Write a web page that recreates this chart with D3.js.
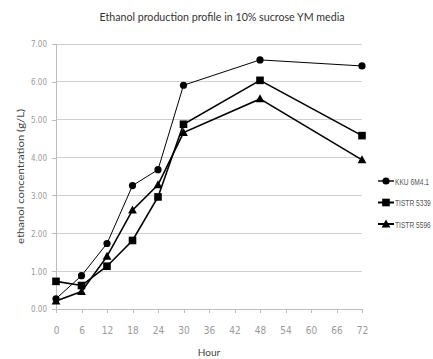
<!DOCTYPE html>
<html>
<head>
<meta charset="utf-8">
<script src="https://cdn.jsdelivr.net/npm/d3@7"></script>
<style>
  html, body { margin: 0; padding: 0; background: #fff; }
  svg { display: block; }
</style>
</head>
<body>
<svg id="chart" width="433" height="359"></svg>
<script>
// Sampling times (h) and ethanol concentration (g/L) for each strain
const hours = [0, 6, 12, 18, 24, 30, 48, 72];
const kkuValues = [0.27, 0.88, 1.73, 3.26, 3.68, 5.91, 6.58, 6.42];
const tistr5339Values = [0.73, 0.62, 1.13, 1.81, 2.96, 4.88, 6.04, 4.58];
const tistr5596Values = [0.21, 0.46, 1.39, 2.61, 3.28, 4.66, 5.55, 3.94];
const seriesNames = ["KKU 6M4.1", "TISTR 5339", "TISTR 5596"];
const xTicks = [0, 6, 12, 18, 24, 30, 36, 42, 48, 54, 60, 66, 72];
const yTicks = [0, 1, 2, 3, 4, 5, 6, 7];

const series = [
  { name: seriesNames[0], values: kkuValues, marker: "circle", width: 1 },
  { name: seriesNames[1], values: tistr5339Values, marker: "square", width: 1.6 },
  { name: seriesNames[2], values: tistr5596Values, marker: "triangle", width: 1.6 }
];

const svg = d3.select("#chart");
const tickFont = "'Liberation Sans Narrow', 'DejaVu Sans Condensed', 'Liberation Sans', sans-serif";
const labelFont = "Lato, 'Open Sans', sans-serif";

const x = d3.scaleLinear().domain([0, 72]).range([56, 362]);
const y = d3.scaleLinear().domain([0, 7]).range([309, 44]);

// Horizontal gridlines
svg.append("g")
  .selectAll("line")
  .data(yTicks.filter(d => d > 0))
  .join("line")
  .attr("x1", x(0)).attr("x2", x(72))
  .attr("y1", d => y(d)).attr("y2", d => y(d))
  .attr("stroke", "#d0d0d0").attr("stroke-width", 1)
  .attr("shape-rendering", "crispEdges");

// Y axis
const yAxis = svg.append("g")
  .attr("transform", `translate(${x(0)},0)`)
  .call(d3.axisLeft(y).tickValues(yTicks).tickSize(4).tickPadding(5)
    .tickFormat(d3.format(".2f")));
yAxis.selectAll("line, path").attr("stroke", "#bdbdbd").attr("shape-rendering", "crispEdges");
yAxis.selectAll("text").attr("fill", "#9a9a9a")
  .attr("textLength", 16).attr("lengthAdjust", "spacingAndGlyphs")
  .style("font-family", tickFont).style("font-size", "9px");

// X axis
const xAxis = svg.append("g")
  .attr("transform", `translate(0,${y(0)})`)
  .call(d3.axisBottom(x).tickValues(xTicks).tickSize(4).tickPadding(14));
xAxis.select("path").attr("d", `M${x(0)},0H${x(72)}`);
xAxis.selectAll("line, path").attr("stroke", "#bdbdbd").attr("shape-rendering", "crispEdges");
xAxis.selectAll("text").attr("fill", "#9a9a9a")
  .style("font-family", tickFont).style("font-size", "10px");

// Title and axis titles
svg.append("text")
  .attr("x", 222).attr("y", 21)
  .attr("text-anchor", "middle")
  .attr("fill", "#333")
  .attr("textLength", 245).attr("lengthAdjust", "spacingAndGlyphs")
  .style("font-family", labelFont).style("font-size", "11.5px")
  .text("Ethanol production profile in 10% sucrose YM media");

svg.append("text")
  .attr("x", 209).attr("y", 356)
  .attr("text-anchor", "middle")
  .attr("fill", "#444")
  .style("font-family", labelFont).style("font-size", "10px")
  .text("Hour");

svg.append("text")
  .attr("transform", `translate(24,${(y(0) + y(7)) / 2}) rotate(-90)`)
  .attr("text-anchor", "middle")
  .attr("fill", "#444")
  .attr("textLength", 135).attr("lengthAdjust", "spacingAndGlyphs")
  .style("font-family", labelFont).style("font-size", "10px")
  .text("ethanol concentration (g/L)");

// Marker drawing helper
function drawMarker(sel, type) {
  if (type === "circle") {
    sel.append("circle").attr("r", 3.6).attr("fill", "#000");
  } else if (type === "square") {
    sel.append("rect").attr("x", -3.8).attr("y", -3.8)
      .attr("width", 7.6).attr("height", 7.6).attr("fill", "#000");
  } else {
    sel.append("path").attr("d", "M0,-4.6L4.4,3.4L-4.4,3.4Z").attr("fill", "#000");
  }
}

// Series lines and markers
const line = d3.line().x(d => x(d[0])).y(d => y(d[1]));
series.forEach(s => {
  const pts = hours.map((h, i) => [h, s.values[i]]);
  svg.append("path")
    .datum(pts)
    .attr("d", line)
    .attr("fill", "none")
    .attr("stroke", "#000")
    .attr("stroke-width", s.width);
  svg.append("g")
    .selectAll("g")
    .data(pts)
    .join("g")
    .attr("transform", d => `translate(${x(d[0])},${y(d[1])})`)
    .each(function () { drawMarker(d3.select(this), s.marker); });
});

// Legend (labels squeezed horizontally into a narrow face)
const legend = svg.append("g");
series.forEach((s, i) => {
  const ly = 181 + i * 21.5;
  legend.append("line")
    .attr("x1", 378).attr("x2", 394).attr("y1", ly).attr("y2", ly)
    .attr("stroke", "#000").attr("stroke-width", s.width + 0.4);
  const m = legend.append("g").attr("transform", `translate(386,${ly})`);
  drawMarker(m, s.marker);
  legend.append("text")
    .attr("transform", `translate(395,${ly + 3.5}) scale(0.7,1)`)
    .attr("fill", "#555")
    .style("font-family", "'Liberation Sans', sans-serif").style("font-size", "9.5px")
    .text(s.name);
});
</script>
</body>
</html>
